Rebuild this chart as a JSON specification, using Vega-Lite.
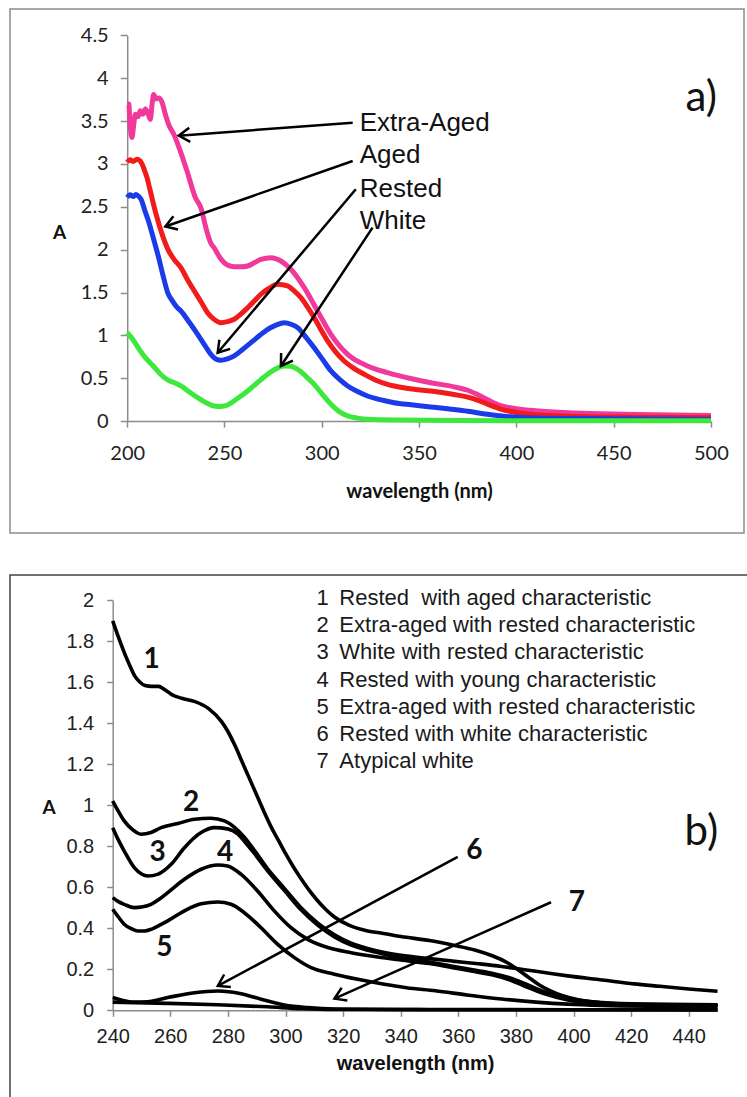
{
  "$schema": "https://vega.github.io/schema/vega-lite/v6.json",
  "padding": {"left": 9, "top": 8, "right": 0, "bottom": 0},
  "bounds": "flush",
  "spacing": 42,
  "config": {"font": "Liberation Sans", "axis": {"grid": false, "labelFlush": false, "labelOverlap": false}},
  "datasets": {
    "top": [
      {"s":"Extra-Aged","x":200,"y":3.70},{"s":"Extra-Aged","x":200.8,"y":3.70},{"s":"Extra-Aged","x":201.5,"y":3.45},{"s":"Extra-Aged","x":202.5,"y":3.31},{"s":"Extra-Aged","x":203.3,"y":3.45},{"s":"Extra-Aged","x":204.2,"y":3.58},{"s":"Extra-Aged","x":205.5,"y":3.55},{"s":"Extra-Aged","x":206.7,"y":3.62},{"s":"Extra-Aged","x":208,"y":3.58},{"s":"Extra-Aged","x":209.3,"y":3.64},{"s":"Extra-Aged","x":210.5,"y":3.60},{"s":"Extra-Aged","x":211.9,"y":3.52},{"s":"Extra-Aged","x":212.8,"y":3.70},{"s":"Extra-Aged","x":213.6,"y":3.81},{"s":"Extra-Aged","x":214.8,"y":3.76},{"s":"Extra-Aged","x":216.2,"y":3.77},{"s":"Extra-Aged","x":217.9,"y":3.72},{"s":"Extra-Aged","x":219.6,"y":3.58},{"s":"Extra-Aged","x":221.3,"y":3.46},{"s":"Extra-Aged","x":223.9,"y":3.35},{"s":"Extra-Aged","x":227.3,"y":3.15},{"s":"Extra-Aged","x":230.7,"y":2.92},{"s":"Extra-Aged","x":235,"y":2.61},{"s":"Extra-Aged","x":238,"y":2.48},{"s":"Extra-Aged","x":240.5,"y":2.25},{"s":"Extra-Aged","x":242.9,"y":2.08},{"s":"Extra-Aged","x":244.7,"y":2.02},{"s":"Extra-Aged","x":248.2,"y":1.89},{"s":"Extra-Aged","x":251.5,"y":1.82},{"s":"Extra-Aged","x":255,"y":1.80},{"s":"Extra-Aged","x":258.5,"y":1.80},{"s":"Extra-Aged","x":261.9,"y":1.81},{"s":"Extra-Aged","x":265.5,"y":1.85},{"s":"Extra-Aged","x":268.7,"y":1.888},{"s":"Extra-Aged","x":273.9,"y":1.907},{"s":"Extra-Aged","x":279,"y":1.868},{"s":"Extra-Aged","x":284.1,"y":1.771},{"s":"Extra-Aged","x":291,"y":1.557},{"s":"Extra-Aged","x":297.8,"y":1.285},{"s":"Extra-Aged","x":304.7,"y":1.013},{"s":"Extra-Aged","x":313.3,"y":0.779},{"s":"Extra-Aged","x":323.5,"y":0.643},{"s":"Extra-Aged","x":333.8,"y":0.565},{"s":"Extra-Aged","x":347.5,"y":0.488},{"s":"Extra-Aged","x":356,"y":0.448},{"s":"Extra-Aged","x":368,"y":0.40},{"s":"Extra-Aged","x":375,"y":0.36},{"s":"Extra-Aged","x":380,"y":0.31},{"s":"Extra-Aged","x":386,"y":0.24},{"s":"Extra-Aged","x":392,"y":0.18},{"s":"Extra-Aged","x":400,"y":0.145},{"s":"Extra-Aged","x":410,"y":0.12},{"s":"Extra-Aged","x":430,"y":0.095},{"s":"Extra-Aged","x":455,"y":0.08},{"s":"Extra-Aged","x":480,"y":0.07},{"s":"Extra-Aged","x":500,"y":0.065},
      {"s":"Aged","x":200,"y":3.02},{"s":"Aged","x":201.5,"y":3.05},{"s":"Aged","x":203,"y":3.03},{"s":"Aged","x":205,"y":3.055},{"s":"Aged","x":206.5,"y":3.04},{"s":"Aged","x":207.6,"y":3.0},{"s":"Aged","x":209,"y":2.92},{"s":"Aged","x":210.2,"y":2.84},{"s":"Aged","x":211.5,"y":2.72},{"s":"Aged","x":212.7,"y":2.607},{"s":"Aged","x":215,"y":2.40},{"s":"Aged","x":218.4,"y":2.15},{"s":"Aged","x":221,"y":2.0},{"s":"Aged","x":224,"y":1.89},{"s":"Aged","x":227.6,"y":1.79},{"s":"Aged","x":231,"y":1.65},{"s":"Aged","x":234.5,"y":1.518},{"s":"Aged","x":238,"y":1.39},{"s":"Aged","x":241.3,"y":1.265},{"s":"Aged","x":244.5,"y":1.19},{"s":"Aged","x":248.2,"y":1.148},{"s":"Aged","x":251.5,"y":1.16},{"s":"Aged","x":255,"y":1.188},{"s":"Aged","x":258.5,"y":1.25},{"s":"Aged","x":261.9,"y":1.323},{"s":"Aged","x":265.3,"y":1.40},{"s":"Aged","x":268.7,"y":1.48},{"s":"Aged","x":273,"y":1.55},{"s":"Aged","x":277.3,"y":1.596},{"s":"Aged","x":282.4,"y":1.577},{"s":"Aged","x":285.8,"y":1.52},{"s":"Aged","x":289.3,"y":1.44},{"s":"Aged","x":292.7,"y":1.33},{"s":"Aged","x":296.1,"y":1.207},{"s":"Aged","x":299.5,"y":1.07},{"s":"Aged","x":303,"y":0.935},{"s":"Aged","x":307,"y":0.81},{"s":"Aged","x":311.5,"y":0.701},{"s":"Aged","x":316.5,"y":0.615},{"s":"Aged","x":321.8,"y":0.546},{"s":"Aged","x":327.5,"y":0.48},{"s":"Aged","x":333.8,"y":0.429},{"s":"Aged","x":340.5,"y":0.395},{"s":"Aged","x":347.5,"y":0.371},{"s":"Aged","x":356,"y":0.351},{"s":"Aged","x":368,"y":0.31},{"s":"Aged","x":375,"y":0.28},{"s":"Aged","x":380,"y":0.245},{"s":"Aged","x":386,"y":0.19},{"s":"Aged","x":392,"y":0.14},{"s":"Aged","x":400,"y":0.10},{"s":"Aged","x":410,"y":0.075},{"s":"Aged","x":430,"y":0.055},{"s":"Aged","x":460,"y":0.045},{"s":"Aged","x":500,"y":0.04},
      {"s":"Rested","x":200,"y":2.61},{"s":"Rested","x":201.5,"y":2.64},{"s":"Rested","x":203,"y":2.62},{"s":"Rested","x":204.5,"y":2.645},{"s":"Rested","x":206,"y":2.62},{"s":"Rested","x":207.3,"y":2.58},{"s":"Rested","x":209,"y":2.46},{"s":"Rested","x":211,"y":2.33},{"s":"Rested","x":213.5,"y":2.13},{"s":"Rested","x":215.9,"y":1.93},{"s":"Rested","x":218.4,"y":1.70},{"s":"Rested","x":220.8,"y":1.50},{"s":"Rested","x":223.3,"y":1.40},{"s":"Rested","x":225.5,"y":1.33},{"s":"Rested","x":227.6,"y":1.285},{"s":"Rested","x":232,"y":1.15},{"s":"Rested","x":236.2,"y":1.013},{"s":"Rested","x":240,"y":0.88},{"s":"Rested","x":243,"y":0.779},{"s":"Rested","x":245.5,"y":0.725},{"s":"Rested","x":248.2,"y":0.709},{"s":"Rested","x":251.5,"y":0.725},{"s":"Rested","x":255,"y":0.76},{"s":"Rested","x":259.3,"y":0.835},{"s":"Rested","x":263.6,"y":0.915},{"s":"Rested","x":267.9,"y":0.995},{"s":"Rested","x":272.2,"y":1.071},{"s":"Rested","x":276.5,"y":1.12},{"s":"Rested","x":280.7,"y":1.148},{"s":"Rested","x":284.2,"y":1.13},{"s":"Rested","x":287.6,"y":1.09},{"s":"Rested","x":291.8,"y":0.98},{"s":"Rested","x":296.1,"y":0.856},{"s":"Rested","x":300.4,"y":0.72},{"s":"Rested","x":304.7,"y":0.585},{"s":"Rested","x":309,"y":0.49},{"s":"Rested","x":313.3,"y":0.41},{"s":"Rested","x":318.4,"y":0.345},{"s":"Rested","x":323.5,"y":0.293},{"s":"Rested","x":330,"y":0.25},{"s":"Rested","x":337.2,"y":0.215},{"s":"Rested","x":346,"y":0.19},{"s":"Rested","x":356,"y":0.165},{"s":"Rested","x":368,"y":0.135},{"s":"Rested","x":375,"y":0.115},{"s":"Rested","x":385,"y":0.08},{"s":"Rested","x":395,"y":0.055},{"s":"Rested","x":405,"y":0.04},{"s":"Rested","x":430,"y":0.03},{"s":"Rested","x":460,"y":0.025},{"s":"Rested","x":500,"y":0.02},
      {"s":"White","x":200,"y":1.03},{"s":"White","x":203,"y":0.95},{"s":"White","x":206.1,"y":0.84},{"s":"White","x":209,"y":0.75},{"s":"White","x":213.5,"y":0.64},{"s":"White","x":217,"y":0.55},{"s":"White","x":220.8,"y":0.48},{"s":"White","x":224,"y":0.45},{"s":"White","x":227.6,"y":0.41},{"s":"White","x":232,"y":0.34},{"s":"White","x":236.2,"y":0.273},{"s":"White","x":240.5,"y":0.215},{"s":"White","x":244.7,"y":0.176},{"s":"White","x":248,"y":0.17},{"s":"White","x":251.6,"y":0.188},{"s":"White","x":256.5,"y":0.26},{"s":"White","x":261.9,"y":0.351},{"s":"White","x":267,"y":0.45},{"s":"White","x":272.2,"y":0.546},{"s":"White","x":276.5,"y":0.61},{"s":"White","x":280.7,"y":0.643},{"s":"White","x":284,"y":0.64},{"s":"White","x":287.6,"y":0.604},{"s":"White","x":292,"y":0.52},{"s":"White","x":296.1,"y":0.429},{"s":"White","x":300.4,"y":0.31},{"s":"White","x":304.7,"y":0.196},{"s":"White","x":309,"y":0.11},{"s":"White","x":313.3,"y":0.06},{"s":"White","x":318.4,"y":0.035},{"s":"White","x":323.5,"y":0.021},{"s":"White","x":340,"y":0.012},{"s":"White","x":370,"y":0.007},{"s":"White","x":400,"y":0.005},{"s":"White","x":500,"y":0.003}
    ],
    "topText": [
      {"x":319.5,"y":3.478,"t":"Extra-Aged"},{"x":319.5,"y":3.10,"t":"Aged"},{"x":319.5,"y":2.71,"t":"Rested"},{"x":319.5,"y":2.335,"t":"White"}
    ],
    "topTag": [{"x":495,"y":3.77,"t":"a)"}],
    "topArrows": [
      {"x1":315.9,"y1":3.482,"x2":226.5,"y2":3.33,"ang":175.7},
      {"x1":315.9,"y1":3.035,"x2":219.6,"y2":2.27,"ang":160.7},
      {"x1":317.5,"y1":2.705,"x2":246.5,"y2":0.798,"ang":130.2},
      {"x1":326.1,"y1":2.257,"x2":279,"y2":0.643,"ang":123.5}
    ],
    "bot": [
      {"s":"1","x":240,"y":1.90},{"s":"1","x":242,"y":1.82},{"s":"1","x":244.3,"y":1.735},{"s":"1","x":246,"y":1.68},{"s":"1","x":247.7,"y":1.63},{"s":"1","x":249.5,"y":1.60},{"s":"1","x":251.2,"y":1.584},{"s":"1","x":253.5,"y":1.58},{"s":"1","x":255.9,"y":1.58},{"s":"1","x":258,"y":1.565},{"s":"1","x":260.5,"y":1.54},{"s":"1","x":264,"y":1.522},{"s":"1","x":268.6,"y":1.506},{"s":"1","x":273.2,"y":1.473},{"s":"1","x":277.8,"y":1.408},{"s":"1","x":280,"y":1.36},{"s":"1","x":282.5,"y":1.29},{"s":"1","x":285,"y":1.21},{"s":"1","x":287.5,"y":1.13},{"s":"1","x":290,"y":1.05},{"s":"1","x":292.5,"y":0.97},{"s":"1","x":295,"y":0.895},{"s":"1","x":297.5,"y":0.83},{"s":"1","x":300,"y":0.765},{"s":"1","x":302.5,"y":0.705},{"s":"1","x":305,"y":0.65},{"s":"1","x":308,"y":0.59},{"s":"1","x":311,"y":0.537},{"s":"1","x":314,"y":0.492},{"s":"1","x":317,"y":0.455},{"s":"1","x":322,"y":0.415},{"s":"1","x":328.5,"y":0.387},{"s":"1","x":334,"y":0.375},{"s":"1","x":340.1,"y":0.36},{"s":"1","x":350,"y":0.34},{"s":"1","x":358,"y":0.318},{"s":"1","x":366,"y":0.293},{"s":"1","x":372,"y":0.265},{"s":"1","x":376,"y":0.24},{"s":"1","x":380,"y":0.205},{"s":"1","x":384,"y":0.165},{"s":"1","x":388,"y":0.125},{"s":"1","x":392,"y":0.095},{"s":"1","x":396,"y":0.072},{"s":"1","x":402,"y":0.05},{"s":"1","x":410,"y":0.036},{"s":"1","x":425,"y":0.028},{"s":"1","x":450,"y":0.025},
      {"s":"2","x":240,"y":1.021},{"s":"2","x":242,"y":0.97},{"s":"2","x":244,"y":0.924},{"s":"2","x":247,"y":0.88},{"s":"2","x":249.8,"y":0.859},{"s":"2","x":253.3,"y":0.867},{"s":"2","x":256.8,"y":0.891},{"s":"2","x":262.6,"y":0.911},{"s":"2","x":268.4,"y":0.932},{"s":"2","x":274.1,"y":0.937},{"s":"2","x":278.8,"y":0.924},{"s":"2","x":282.2,"y":0.894},{"s":"2","x":285.7,"y":0.845},{"s":"2","x":289.2,"y":0.78},{"s":"2","x":293.8,"y":0.69},{"s":"2","x":299.6,"y":0.595},{"s":"2","x":305.4,"y":0.50},{"s":"2","x":311.2,"y":0.425},{"s":"2","x":317,"y":0.368},{"s":"2","x":322.8,"y":0.327},{"s":"2","x":328.5,"y":0.302},{"s":"2","x":334,"y":0.283},{"s":"2","x":340.1,"y":0.268},{"s":"2","x":350,"y":0.252},{"s":"2","x":358,"y":0.24},{"s":"2","x":367,"y":0.227},{"s":"2","x":375,"y":0.214},{"s":"2","x":383,"y":0.198},{"s":"2","x":391,"y":0.182},{"s":"2","x":398,"y":0.168},{"s":"2","x":410,"y":0.148},{"s":"2","x":421,"y":0.129},{"s":"2","x":430,"y":0.117},{"s":"2","x":440,"y":0.104},{"s":"2","x":450,"y":0.093},
      {"s":"3","x":240,"y":0.891},{"s":"3","x":242,"y":0.83},{"s":"3","x":244,"y":0.777},{"s":"3","x":247.5,"y":0.696},{"s":"3","x":250,"y":0.665},{"s":"3","x":252.2,"y":0.655},{"s":"3","x":255.6,"y":0.663},{"s":"3","x":260.3,"y":0.712},{"s":"3","x":264.9,"y":0.793},{"s":"3","x":270.7,"y":0.867},{"s":"3","x":275.3,"y":0.891},{"s":"3","x":279.9,"y":0.885},{"s":"3","x":283.4,"y":0.86},{"s":"3","x":286,"y":0.82},{"s":"3","x":289.2,"y":0.765},{"s":"3","x":293.8,"y":0.68},{"s":"3","x":299.6,"y":0.585},{"s":"3","x":305.4,"y":0.49},{"s":"3","x":311.2,"y":0.415},{"s":"3","x":317,"y":0.358},{"s":"3","x":322.8,"y":0.318},{"s":"3","x":328.5,"y":0.293},{"s":"3","x":334,"y":0.275},{"s":"3","x":340.1,"y":0.257},{"s":"3","x":350,"y":0.235},{"s":"3","x":358,"y":0.215},{"s":"3","x":366,"y":0.195},{"s":"3","x":372,"y":0.18},{"s":"3","x":378,"y":0.158},{"s":"3","x":384,"y":0.125},{"s":"3","x":390,"y":0.09},{"s":"3","x":398,"y":0.058},{"s":"3","x":410,"y":0.038},{"s":"3","x":425,"y":0.03},{"s":"3","x":450,"y":0.027},
      {"s":"4","x":240,"y":0.55},{"s":"4","x":242,"y":0.53},{"s":"4","x":244,"y":0.517},{"s":"4","x":247.5,"y":0.501},{"s":"4","x":250.5,"y":0.505},{"s":"4","x":253.3,"y":0.517},{"s":"4","x":256,"y":0.54},{"s":"4","x":259.1,"y":0.574},{"s":"4","x":264.9,"y":0.639},{"s":"4","x":270.7,"y":0.688},{"s":"4","x":276.5,"y":0.709},{"s":"4","x":279.9,"y":0.704},{"s":"4","x":284.6,"y":0.663},{"s":"4","x":290.3,"y":0.582},{"s":"4","x":296.1,"y":0.485},{"s":"4","x":301.9,"y":0.403},{"s":"4","x":307.7,"y":0.346},{"s":"4","x":314.7,"y":0.306},{"s":"4","x":322.8,"y":0.281},{"s":"4","x":332,"y":0.26},{"s":"4","x":340.1,"y":0.245},{"s":"4","x":350,"y":0.228},{"s":"4","x":358,"y":0.208},{"s":"4","x":366,"y":0.188},{"s":"4","x":372,"y":0.172},{"s":"4","x":378,"y":0.148},{"s":"4","x":384,"y":0.112},{"s":"4","x":390,"y":0.08},{"s":"4","x":398,"y":0.05},{"s":"4","x":410,"y":0.032},{"s":"4","x":425,"y":0.025},{"s":"4","x":450,"y":0.022},
      {"s":"5","x":240,"y":0.493},{"s":"5","x":242,"y":0.455},{"s":"5","x":244,"y":0.42},{"s":"5","x":246.5,"y":0.398},{"s":"5","x":248.7,"y":0.387},{"s":"5","x":251,"y":0.387},{"s":"5","x":253.3,"y":0.395},{"s":"5","x":256,"y":0.413},{"s":"5","x":259.1,"y":0.436},{"s":"5","x":264.9,"y":0.485},{"s":"5","x":270.7,"y":0.52},{"s":"5","x":276.5,"y":0.528},{"s":"5","x":281.1,"y":0.517},{"s":"5","x":285.7,"y":0.476},{"s":"5","x":291.5,"y":0.403},{"s":"5","x":297.3,"y":0.322},{"s":"5","x":303.1,"y":0.257},{"s":"5","x":308.9,"y":0.208},{"s":"5","x":317,"y":0.176},{"s":"5","x":325.1,"y":0.151},{"s":"5","x":334.3,"y":0.127},{"s":"5","x":342,"y":0.11},{"s":"5","x":352,"y":0.095},{"s":"5","x":363,"y":0.075},{"s":"5","x":375,"y":0.055},{"s":"5","x":387,"y":0.04},{"s":"5","x":398,"y":0.03},{"s":"5","x":410,"y":0.024},{"s":"5","x":430,"y":0.02},{"s":"5","x":450,"y":0.018},
      {"s":"6","x":240,"y":0.062},{"s":"6","x":243,"y":0.05},{"s":"6","x":247.5,"y":0.04},{"s":"6","x":252,"y":0.042},{"s":"6","x":259.1,"y":0.062},{"s":"6","x":268.4,"y":0.086},{"s":"6","x":276.5,"y":0.094},{"s":"6","x":284.6,"y":0.081},{"s":"6","x":291.5,"y":0.054},{"s":"6","x":299.6,"y":0.026},{"s":"6","x":307.7,"y":0.013},{"s":"6","x":317,"y":0.006},{"s":"6","x":340,"y":0.004},{"s":"6","x":400,"y":0.003},{"s":"6","x":450,"y":0.003},
      {"s":"7","x":240,"y":0.04},{"s":"7","x":259.1,"y":0.034},{"s":"7","x":276.5,"y":0.027},{"s":"7","x":293.8,"y":0.017},{"s":"7","x":305.4,"y":0.008},{"s":"7","x":317,"y":0.004},{"s":"7","x":350,"y":0.003},{"s":"7","x":450,"y":0.002}
    ],
    "botNums": [
      {"x":253.5,"y":1.711,"t":"1"},{"x":267.2,"y":1.01,"t":"2"},{"x":255.6,"y":0.769,"t":"3"},{"x":279,"y":0.769,"t":"4"},{"x":257.9,"y":0.305,"t":"5"},{"x":365.6,"y":0.777,"t":"6"},{"x":401.2,"y":0.525,"t":"7"}
    ],
    "botTag": [{"x":444.4,"y":0.868,"t":"b)"}],
    "botArrows": [
      {"x1":359.8,"y1":0.748,"x2":276.5,"y2":0.119,"ang":151.7},
      {"x1":392.2,"y1":0.527,"x2":317,"y2":0.057,"ang":156.0}
    ],
    "legend": [
      {"xn":310.8,"xt":318.7,"y":2.011,"n":"1","t":"Rested\u00a0 with aged characteristic"},
      {"xn":310.8,"xt":318.7,"y":1.878,"n":"2","t":"Extra-aged with rested characteristic"},
      {"xn":310.8,"xt":318.7,"y":1.747,"n":"3","t":"White with rested characteristic"},
      {"xn":310.8,"xt":318.7,"y":1.611,"n":"4","t":"Rested with young characteristic"},
      {"xn":310.8,"xt":318.7,"y":1.48,"n":"5","t":"Extra-aged with rested characteristic"},
      {"xn":310.8,"xt":318.7,"y":1.347,"n":"6","t":"Rested with white characteristic"},
      {"xn":310.8,"xt":318.7,"y":1.215,"n":"7","t":"Atypical white"}
    ]
  },
  "vconcat": [
    {
      "width": 734,
      "height": 524,
      "view": {"stroke": "#8c8c8c", "strokeWidth": 1.5},
      "layer": [
        {
          "data": {"name": "top"},
          "mark": {"type": "line", "strokeWidth": 5, "interpolate": "monotone"},
          "encoding": {
            "x": {"field": "x", "type": "quantitative", "title": "wavelength (nm)",
              "scale": {"domain": [200, 500], "range": [117.2, 700.9], "nice": false, "zero": false},
              "axis": {"values": [200,250,300,350,400,450,500], "offset": -111.9, "domainColor": "#8c8c8c", "domainWidth": 1.5, "tickColor": "#8c8c8c", "tickWidth": 1.5, "tickSize": 6, "labelFont": "Lato", "labelFontSize": 20, "labelColor": "#222", "labelPadding": 16, "titleFont": "Lato", "titleFontWeight": "bold", "titleFontSize": 20, "titleColor": "#111", "titleBaseline": "middle", "titleY": 70}},
            "y": {"field": "y", "type": "quantitative", "title": "A",
              "scale": {"domain": [0, 4.5], "range": [412.1, 26.4], "nice": false, "zero": false},
              "axis": {"values": [0,0.5,1,1.5,2,2.5,3,3.5,4,4.5], "format": "~g", "offset": -117.2, "domainColor": "#8c8c8c", "domainWidth": 1.5, "tickColor": "#8c8c8c", "tickWidth": 1.5, "tickSize": 7, "labelFont": "Lato", "labelFontSize": 20, "labelColor": "#222", "labelPadding": 12, "titleFont": "Lato", "titleFontWeight": "bold", "titleFontSize": 19, "titleColor": "#111", "titleAngle": 0, "titleAlign": "center", "titleBaseline": "middle", "titleX": -68, "titleY": 223}},
            "color": {"field": "s", "type": "nominal", "legend": null,
              "scale": {"domain": ["White", "Rested", "Aged", "Extra-Aged"], "range": ["#3be83b", "#1b3be8", "#f21b1b", "#f0399a"]}}
          }
        },
        {
          "data": {"name": "topArrows"},
          "mark": {"type": "rule", "strokeWidth": 2.5, "color": "#000"},
          "encoding": {
            "x": {"field": "x1", "type": "quantitative"},
            "y": {"field": "y1", "type": "quantitative"},
            "x2": {"field": "x2"},
            "y2": {"field": "y2"}
          }
        },
        {
          "data": {"name": "topArrows"},
          "mark": {"type": "point", "shape": "M -1 -0.64 L 0 0 L -1 0.64", "filled": false, "stroke": "#000", "strokeWidth": 2.5, "size": 484, "opacity": 1},
          "encoding": {
            "x": {"field": "x2", "type": "quantitative"},
            "y": {"field": "y2", "type": "quantitative"},
            "angle": {"field": "ang", "type": "quantitative", "scale": null}
          }
        },
        {
          "data": {"name": "topText"},
          "mark": {"type": "text", "align": "left", "baseline": "middle", "font": "Liberation Sans", "fontSize": 26, "color": "#111"},
          "encoding": {
            "x": {"field": "x", "type": "quantitative"},
            "y": {"field": "y", "type": "quantitative"},
            "text": {"field": "t"}
          }
        },
        {
          "data": {"name": "topTag"},
          "mark": {"type": "text", "align": "center", "baseline": "middle", "font": "Lato", "fontSize": 42, "color": "#111"},
          "encoding": {
            "x": {"field": "x", "type": "quantitative"},
            "y": {"field": "y", "type": "quantitative"},
            "text": {"field": "t"}
          }
        }
      ]
    },
    {
      "width": 745,
      "height": 530,
      "view": {"stroke": "#444", "strokeWidth": 1.5},
      "layer": [
        {
          "data": {"name": "bot"},
          "mark": {"type": "line", "strokeWidth": 3.6, "interpolate": "monotone", "color": "#000"},
          "encoding": {
            "x": {"field": "x", "type": "quantitative", "title": "wavelength (nm)",
              "scale": {"domain": [240, 450], "range": [102.7, 707.5], "nice": false, "zero": false},
              "axis": {"values": [240,260,280,300,320,340,360,380,400,420,440], "offset": -94.7, "domainColor": "#8c8c8c", "domainWidth": 1.5, "tickColor": "#8c8c8c", "tickWidth": 1.5, "tickSize": 6, "labelFont": "Liberation Sans", "labelFontSize": 20, "labelColor": "#222", "labelPadding": 10, "titleFont": "Liberation Sans", "titleFontWeight": "bold", "titleFontSize": 20, "titleColor": "#111", "titleBaseline": "middle", "titleY": 53}},
            "y": {"field": "y", "type": "quantitative", "title": "A",
              "scale": {"domain": [0, 2], "range": [435.3, 25.3], "nice": false, "zero": false},
              "axis": {"values": [0,0.2,0.4,0.6,0.8,1,1.2,1.4,1.6,1.8,2], "format": "~g", "offset": -102.7, "domainColor": "#8c8c8c", "domainWidth": 1.5, "tickColor": "#8c8c8c", "tickWidth": 1.5, "tickSize": 6, "labelFont": "Liberation Sans", "labelFontSize": 20, "labelColor": "#222", "labelPadding": 13, "titleFont": "Lato", "titleFontWeight": "bold", "titleFontSize": 19, "titleColor": "#111", "titleAngle": 0, "titleAlign": "center", "titleBaseline": "middle", "titleX": -64, "titleY": 232}},
            "detail": {"field": "s", "type": "nominal"}
          }
        },
        {
          "data": {"name": "botArrows"},
          "mark": {"type": "rule", "strokeWidth": 2.5, "color": "#000"},
          "encoding": {
            "x": {"field": "x1", "type": "quantitative"},
            "y": {"field": "y1", "type": "quantitative"},
            "x2": {"field": "x2"},
            "y2": {"field": "y2"}
          }
        },
        {
          "data": {"name": "botArrows"},
          "mark": {"type": "point", "shape": "M -1 -0.64 L 0 0 L -1 0.64", "filled": false, "stroke": "#000", "strokeWidth": 2.5, "size": 484, "opacity": 1},
          "encoding": {
            "x": {"field": "x2", "type": "quantitative"},
            "y": {"field": "y2", "type": "quantitative"},
            "angle": {"field": "ang", "type": "quantitative", "scale": null}
          }
        },
        {
          "data": {"name": "botNums"},
          "mark": {"type": "text", "align": "center", "baseline": "middle", "font": "Lato", "fontWeight": "bold", "fontSize": 28, "color": "#111"},
          "encoding": {
            "x": {"field": "x", "type": "quantitative"},
            "y": {"field": "y", "type": "quantitative"},
            "text": {"field": "t"}
          }
        },
        {
          "data": {"name": "botTag"},
          "mark": {"type": "text", "align": "center", "baseline": "middle", "font": "Lato", "fontSize": 42, "color": "#111"},
          "encoding": {
            "x": {"field": "x", "type": "quantitative"},
            "y": {"field": "y", "type": "quantitative"},
            "text": {"field": "t"}
          }
        },
        {
          "data": {"name": "legend"},
          "mark": {"type": "text", "align": "left", "baseline": "middle", "font": "Liberation Sans", "fontSize": 22, "color": "#1a1a1a"},
          "encoding": {
            "x": {"field": "xn", "type": "quantitative"},
            "y": {"field": "y", "type": "quantitative"},
            "text": {"field": "n"}
          }
        },
        {
          "data": {"name": "legend"},
          "mark": {"type": "text", "align": "left", "baseline": "middle", "font": "Liberation Sans", "fontSize": 22, "color": "#1a1a1a"},
          "encoding": {
            "x": {"field": "xt", "type": "quantitative"},
            "y": {"field": "y", "type": "quantitative"},
            "text": {"field": "t"}
          }
        }
      ]
    }
  ]
}
